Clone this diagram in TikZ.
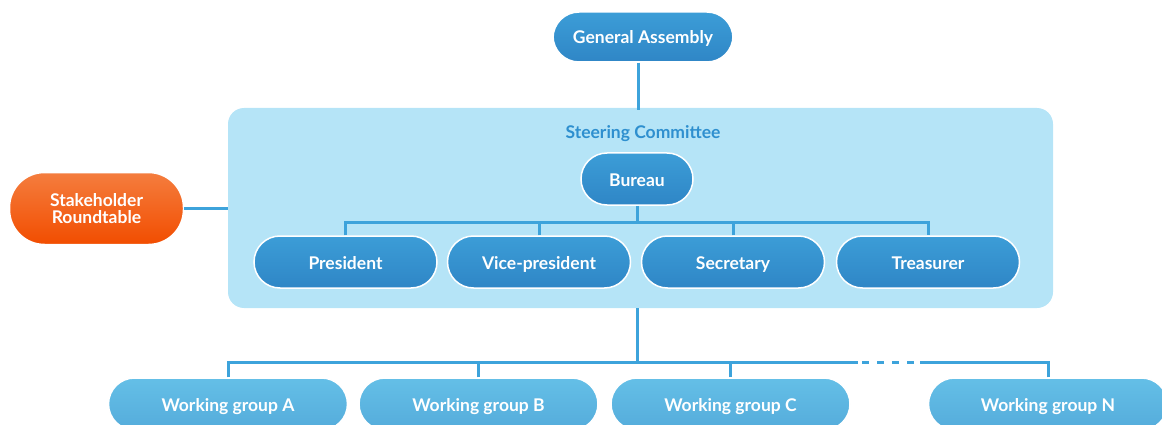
\documentclass[tikz,border=0pt]{standalone}
\usepackage{fontspec}
\setmainfont{Lato}
\usetikzlibrary{positioning}
\definecolor{linkblue}{HTML}{3DA3DB}
\definecolor{paneblue}{HTML}{B5E4F7}
\definecolor{titleblue}{HTML}{2E8FCF}
\definecolor{boxtop}{HTML}{3C9DD7}
\definecolor{boxbot}{HTML}{2F86C6}
\definecolor{wgtop}{HTML}{64BFE7}
\definecolor{wgbot}{HTML}{55ACDB}
\definecolor{orangetop}{HTML}{F47D3E}
\definecolor{orangebot}{HTML}{F24D00}
\tikzset{
  link/.style={draw=linkblue, line width=3pt},
  panel/.style={fill=paneblue, rounded corners=16pt, minimum width=825pt, minimum height=200pt},
  rolebox/.style={top color=boxtop, bottom color=boxbot, draw=white, line width=1.5pt,
    rounded corners=26pt, minimum width=183pt, minimum height=52pt, text=white,
    text height=14pt, text depth=0pt,
    font=\fontsize{17.5}{20}\selectfont\bfseries},
  wgbox/.style={top color=wgtop, bottom color=wgbot, draw=white, line width=1.5pt,
    rounded corners=26pt, minimum width=239pt, minimum height=52pt, text=white,
    text height=14pt, text depth=0pt,
    font=\fontsize{17.5}{20}\selectfont\bfseries},
  stakebox/.style={top color=orangetop, bottom color=orangebot, draw=white, line width=1.5pt,
    rounded corners=35pt, minimum width=174pt, minimum height=72pt, text=white, align=center,
    font=\fontsize{17.5}{17}\selectfont\bfseries}
}
\begin{document}
\begin{tikzpicture}[x=1pt, y=-1pt]
\useasboundingbox (0,0) rectangle (1162,425);
\clip (0,0) rectangle (1162,425);
% steering committee pane
\node[panel] (steer) at (640.5,208) {};
\node[text=titleblue, font=\fontsize{17.5}{20}\selectfont\bfseries] (steertitle) at (643,134) {Steering Committee};

\node[rolebox, minimum width=180pt, minimum height=50pt] (ga) at (643,37) {General Assembly};
\node[rolebox, minimum width=112pt] (bureau) at (637,179) {Bureau};

\node[rolebox] (pres) at (345.5,262) {President};
\node[rolebox] (vice) at (539,262) {Vice-president};
\node[rolebox] (secr) at (733,262) {Secretary};
\node[rolebox] (treas) at (928,262) {Treasurer};

\node[stakebox] (stake) at (96.5,208.5) {Stakeholder\\Roundtable};

\node[wgbox] (wga) at (228,404) {Working group A};
\node[wgbox] (wgb) at (478.5,404) {Working group B};
\node[wgbox] (wgc) at (730.5,404) {Working group C};
\node[wgbox] (wgn) at (1048,404) {Working group N};

\coordinate (dashL) at (858,362);
\coordinate (dashR) at (920,362);

% connectors
\draw[link] (ga.south -| bureau.south) ++(1.5,0) -- ++(0,47);
\draw[link] (stake.east) -- (stake.east -| steer.west);
\draw[link] (bureau.south) -- ++(0,17) coordinate (bar);
\draw[link] (pres.north) |- (bar) -| (treas.north);
\draw[link] (vice.north) -- (vice.north |- bar);
\draw[link] (secr.north) -- (secr.north |- bar);

\draw[link] (bureau.south |- steer.south) -- (bureau.south |- dashL);
\draw[link] (wga.north) |- (dashL);
\draw[link] (wgn.north) |- (dashR);
\draw[link, dash pattern=on 7pt off 8pt] (dashL) ++(4,0) -- (dashR);
\draw[link] (wgb.north) -- (wgb.north |- dashL);
\draw[link] (wgc.north) -- (wgc.north |- dashL);
\end{tikzpicture}
\end{document}
